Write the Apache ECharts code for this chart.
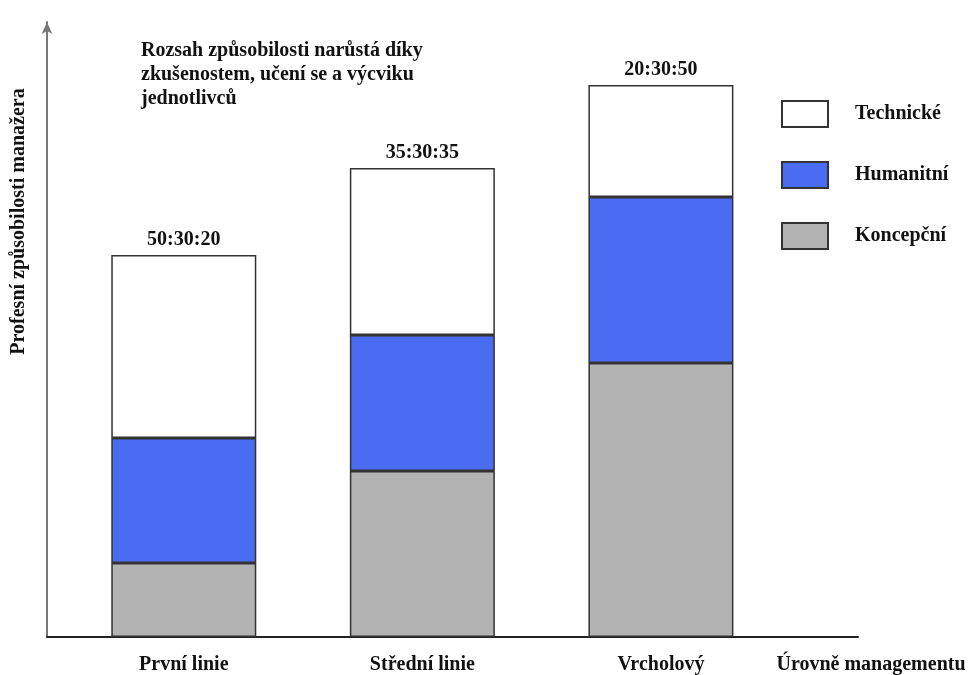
<!DOCTYPE html>
<html>
<head>
<meta charset="utf-8">
<script src="https://cdn.jsdelivr.net/npm/echarts@6/dist/echarts.min.js"></script>
<style>
  html, body { margin: 0; padding: 0; background: #fff; }
  #chart { width: 968px; height: 675px; }
</style>
</head>
<body>
<div id="chart"></div>
<script>
// úrovně managementu
const levels = ['První linie', 'Střední linie', 'Vrcholový']
const ratios = ['50:30:20', '35:30:35', '20:30:50']

// výšky sloupců (relativní jednotky)
const koncepcni = [74, 166, 274]
const humanitni = [125, 136, 166]
const technicke = [183, 167, 112]

const serif = 'Liberation Serif'
const yMax = 615
const chart = echarts.init(document.getElementById('chart'))

const boldText = { fontFamily: serif, fontWeight: 'bold', fontSize: 20, color: '#111' }

const barBase = {
  type: 'bar',
  stack: 'total',
  barWidth: 145,
  itemStyle: { borderColor: '#333', borderWidth: 1.5 },
}

chart.setOption({
  animation: false,
  title: {
    text: 'Rozsah způsobilosti narůstá díky\nzkušenostem, učení se a výcviku\njednotlivců',
    left: 136,
    top: 34,
    textStyle: { ...boldText, lineHeight: 24 },
  },
  legend: {
    orient: 'vertical',
    left: 776,
    top: 95,
    itemWidth: 46,
    itemHeight: 26,
    itemGap: 33,
    icon: 'rect',
    data: ['Technické', 'Humanitní', 'Koncepční'],
    textStyle: { ...boldText, padding: [0, 0, 0, 22] },
  },
  // grid 0: sloupce, grid 1: rám s osami
  grid: [
    { left: 64.5, right: 187.8, top: 22, bottom: 38, outerBoundsMode: 'none' },
    { left: 47, right: 110, top: 22, bottom: 38, outerBoundsMode: 'none' },
  ],
  xAxis: [
    {
      gridIndex: 0,
      type: 'category',
      data: levels,
      axisLine: { show: false },
      axisTick: { show: false },
      axisLabel: { interval: 0, margin: 18, ...boldText },
    },
    {
      gridIndex: 1,
      type: 'value',
      min: 0,
      max: 1,
      splitLine: { show: false },
      axisTick: { show: false },
      axisLabel: { show: false },
      axisLine: { show: true, lineStyle: { color: '#222', width: 2 } },
      name: 'Úrovně managementu',
      nameLocation: 'end',
      nameGap: 13,
      nameTextStyle: { ...boldText, align: 'center', verticalAlign: 'top', padding: [18, 0, 0, 0] },
    },
  ],
  yAxis: [
    {
      gridIndex: 0,
      type: 'value',
      min: 0,
      max: yMax,
      show: false,
    },
    {
      gridIndex: 1,
      type: 'value',
      min: 0,
      max: yMax,
      splitLine: { show: false },
      axisTick: { show: false },
      axisLabel: { show: false },
      axisLine: {
        show: true,
        onZero: false,
        symbol: ['none', 'arrow'],
        symbolSize: [8, 12],
        lineStyle: { color: '#777', width: 2 },
      },
      name: 'Profesní způsobilosti manažera',
      nameLocation: 'middle',
      nameRotate: 90,
      nameGap: 18,
      nameTextStyle: { ...boldText, padding: [0, 0, 0, 216] },
    },
  ],
  series: [
    {
      ...barBase,
      name: 'Koncepční',
      data: koncepcni,
      itemStyle: { ...barBase.itemStyle, color: '#b3b3b3' },
    },
    {
      ...barBase,
      name: 'Humanitní',
      data: humanitni,
      itemStyle: { ...barBase.itemStyle, color: '#4a6cf0' },
    },
    {
      ...barBase,
      name: 'Technické',
      data: technicke,
      itemStyle: { ...barBase.itemStyle, color: '#ffffff' },
      label: {
        show: true,
        position: 'top',
        distance: 5,
        formatter: (p) => ratios[p.dataIndex],
        ...boldText,
      },
    },
  ],
})
</script>
</body>
</html>
